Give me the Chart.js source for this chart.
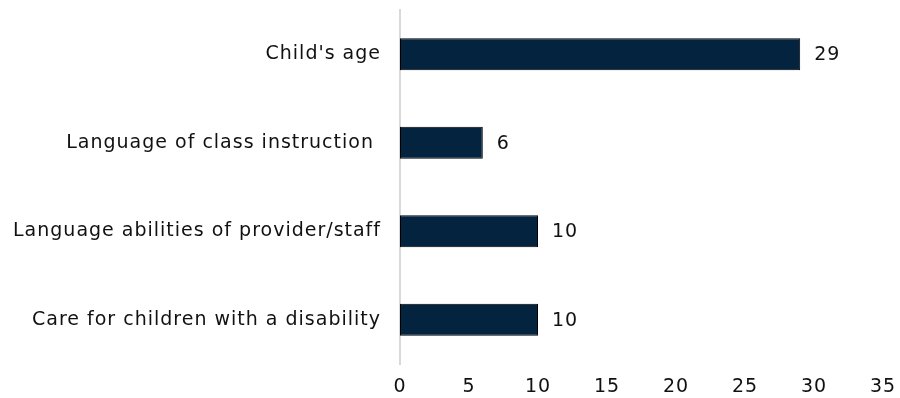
<!DOCTYPE html>
<html>
<head>
<meta charset="utf-8">
<script src="https://cdn.jsdelivr.net/npm/chart.js@4.4.1/dist/chart.umd.min.js"></script>
<style>
  html, body { margin: 0; padding: 0; background: #fff; }
  #wrap { position: relative; width: 900px; height: 398px; }
</style>
</head>
<body>
<div id="wrap"><canvas id="BarReasons"></canvas></div>
<script>
const categories = ["Child's age", 'Language of class instruction ', 'Language abilities of provider/staff', 'Care for children with a disability'];
const counts = [29, 6, 10, 10];
const xTicks = [0, 5, 10, 15, 20, 25, 30, 35];

// the original typeface is wide and loosely set, so open up the tracking a bit
const wideText = {
    id: 'wideText',
    beforeUpdate(chart) { chart.ctx.letterSpacing = '1px'; },
    beforeLayout(chart) { chart.ctx.letterSpacing = '1px'; },
    beforeDraw(chart) { chart.ctx.letterSpacing = '1px'; }
};

// draws the value at the end of each bar
const barValueLabels = {
    id: 'barValueLabels',
    afterDatasetsDraw(chart) {
        const ctx = chart.ctx;
        ctx.save();
        ctx.font = '19px "DejaVu Sans"';
        ctx.letterSpacing = '1px';
        ctx.fillStyle = '#111111';
        ctx.textAlign = 'left';
        ctx.textBaseline = 'middle';
        chart.getDatasetMeta(0).data.forEach((bar, i) => {
            ctx.fillText(counts[i], bar.x + 14, bar.y + 1);
        });
        ctx.restore();
    }
};

Chart.defaults.font.family = '"DejaVu Sans", sans-serif';
Chart.defaults.font.size = 19;
Chart.defaults.color = '#111111';

let BarReasons = new Chart(
    document.getElementById('BarReasons'), {
        type: 'bar',
        plugins: [wideText, barValueLabels],
        data: {
            labels: categories,
            datasets: [
                {
                    label: 'Count',
                    data: counts,
                    backgroundColor: '#03233f',
                    borderColor: '#000000',
                    borderWidth: 1,
                    borderSkipped: false,
                    categoryPercentage: 1,
                    barPercentage: 0.36,
                },
            ]
        },
        options: {
            indexAxis: 'y',
            responsive: true,
            maintainAspectRatio: false,
            animation: false,
            layout: {
                padding: { top: 10, right: 17, bottom: 0, left: 0 }
            },
            scales: {
                x: {
                    min: 0,
                    max: 35,
                    afterBuildTicks: axis => { axis.ticks = xTicks.map(v => ({ value: v })); },
                    afterFit: axis => {
                        axis.height = 34;
                        axis.paddingLeft = 0;
                        axis.paddingRight = 0;
                    },
                    grid: { display: false, drawTicks: false },
                    border: { display: false },
                    ticks: { padding: 12 }
                },
                y: {
                    afterFit: axis => {
                        axis.width = 400;
                        axis.paddingTop = 0;
                        axis.paddingBottom = 0;
                    },
                    grid: { display: false, drawTicks: false },
                    border: { display: true, color: '#d9d9d9', width: 2 },
                    ticks: { padding: 19 }
                }
            },
            plugins: {
                legend: { display: false },
                tooltip: { enabled: false },
                title: { display: false }
            }
        }
    }
);
</script>
</body>
</html>
